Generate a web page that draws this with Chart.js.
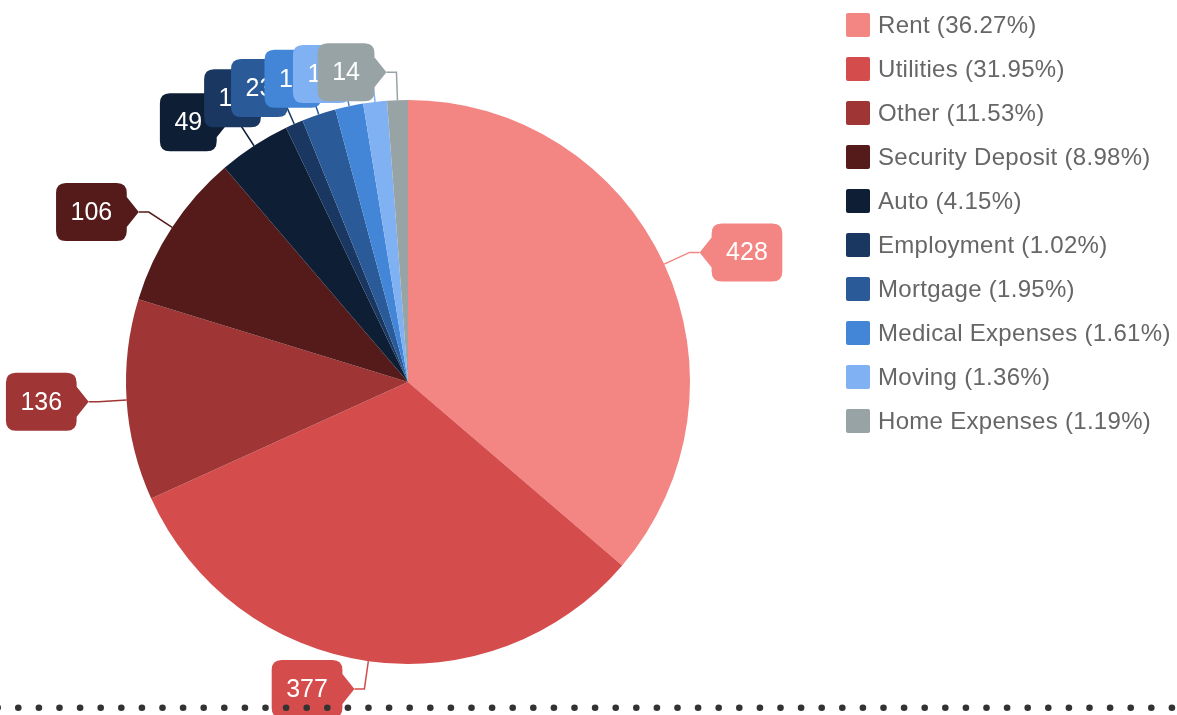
<!DOCTYPE html>
<html>
<head>
<meta charset="utf-8">
<script src="https://cdn.jsdelivr.net/npm/chart.js@4.4.1/dist/chart.umd.min.js"></script>
<style>
    body { margin: 0; background: #fff; }
    #wrap { position: relative; width: 1177px; height: 715px; overflow: hidden; }
    #legend {
        position: absolute; left: 846px; top: 13px; margin: 0; padding: 0; list-style: none;
        font-family: "Liberation Sans", Arial, sans-serif; font-size: 24px; color: #666; letter-spacing: 0.3px;
    }
    #legend li { display: flex; align-items: center; height: 24px; margin-bottom: 20px; white-space: nowrap; }
    #legend .swatch { width: 24px; height: 24px; border-radius: 2px; margin-right: 8px; flex: none; }
</style>
</head>
<body>
<div id="wrap">
    <canvas id="expenseChart" width="1177" height="715"></canvas>
    <ul id="legend"></ul>
</div>
<script>
const categories = ['Rent', 'Utilities', 'Other', 'Security Deposit', 'Auto', 'Employment', 'Mortgage', 'Medical Expenses', 'Moving', 'Home Expenses'];
const amounts = [428, 377, 136, 106, 49, 12, 23, 19, 16, 14];
const sliceColors = ['#f38583', '#d44c4c', '#9f3535', '#551b1b', '#0e1f35', '#193760', '#2a5b98', '#4385d7', '#7fb1f3', '#98a3a6'];

const labelFont = '25px "Liberation Sans", Arial, sans-serif';

// build the legend next to the pie
const total = amounts.reduce((sum, v) => sum + v, 0);
const legendEl = document.getElementById('legend');
categories.forEach((name, i) => {
    const li = document.createElement('li');
    const pct = (amounts[i] / total * 100).toFixed(2);
    li.innerHTML = `<span class="swatch" style="background:${sliceColors[i]}"></span><span>${name} (${pct}%)</span>`;
    legendEl.appendChild(li);
});

// callout boxes outside the slices
const outLabels = {
    id: 'outLabels',
    afterDatasetsDraw(chart) {
        const ctx = chart.ctx;
        const arcs = chart.getDatasetMeta(0).data;
        ctx.save();
        ctx.font = labelFont;
        arcs.forEach((arc, i) => {
            const p = arc.getProps(['x', 'y', 'startAngle', 'endAngle', 'outerRadius'], true);
            const a = (p.startAngle + p.endAngle) / 2;
            const color = sliceColors[i];
            const sx = p.x + p.outerRadius * Math.cos(a);
            const sy = p.y + p.outerRadius * Math.sin(a);
            const ex = p.x + (p.outerRadius + 28) * Math.cos(a);
            const ey = p.y + (p.outerRadius + 28) * Math.sin(a);
            const dir = Math.cos(a) >= 0 ? 1 : -1;
            const tipX = ex + dir * 10;

            ctx.strokeStyle = color;
            ctx.lineWidth = 1.5;
            ctx.beginPath();
            ctx.moveTo(sx, sy);
            ctx.lineTo(ex, ey);
            ctx.lineTo(tipX, ey);
            ctx.stroke();

            const text = String(amounts[i]);
            const w = ctx.measureText(text).width + 29;
            const h = 58;
            const r = 10;
            const near = tipX + dir * 12;
            const far = near + dir * w;
            const left = Math.min(near, far), right = Math.max(near, far);
            const top = ey - h / 2, bottom = ey + h / 2;

            ctx.fillStyle = color;
            ctx.beginPath();
            ctx.moveTo(left + r, top);
            ctx.lineTo(right - r, top);
            ctx.quadraticCurveTo(right, top, right, top + r);
            if (dir < 0) {
                ctx.lineTo(right, ey - 15);
                ctx.lineTo(tipX, ey);
                ctx.lineTo(right, ey + 15);
            }
            ctx.lineTo(right, bottom - r);
            ctx.quadraticCurveTo(right, bottom, right - r, bottom);
            ctx.lineTo(left + r, bottom);
            ctx.quadraticCurveTo(left, bottom, left, bottom - r);
            if (dir > 0) {
                ctx.lineTo(left, ey + 15);
                ctx.lineTo(tipX, ey);
                ctx.lineTo(left, ey - 15);
            }
            ctx.lineTo(left, top + r);
            ctx.quadraticCurveTo(left, top, left + r, top);
            ctx.closePath();
            ctx.fill();

            ctx.fillStyle = '#fff';
            ctx.textAlign = 'center';
            ctx.textBaseline = 'middle';
            ctx.fillText(text, (left + right) / 2, ey + 1);
        });
        ctx.restore();
    }
};

// dotted rule along the bottom of the card
const dottedRule = {
    id: 'dottedRule',
    afterDraw(chart) {
        const ctx = chart.ctx;
        ctx.save();
        ctx.fillStyle = '#333';
        for (let x = -2.3; x < chart.width + 4; x += 20.6) {
            ctx.beginPath();
            ctx.arc(x, 707.7, 3.3, 0, Math.PI * 2);
            ctx.fill();
        }
        ctx.restore();
    }
};

new Chart(document.getElementById('expenseChart'), {
    type: 'pie',
    data: {
        labels: categories,
        datasets: [{
            data: amounts,
            backgroundColor: sliceColors,
            borderWidth: 0
        }]
    },
    options: {
        responsive: false,
        animation: false,
        layout: { padding: { left: 126, top: 100, right: 487, bottom: 51 } },
        plugins: {
            legend: { display: false },
            tooltip: { enabled: false }
        }
    },
    plugins: [outLabels, dottedRule]
});
</script>
</body>
</html>
